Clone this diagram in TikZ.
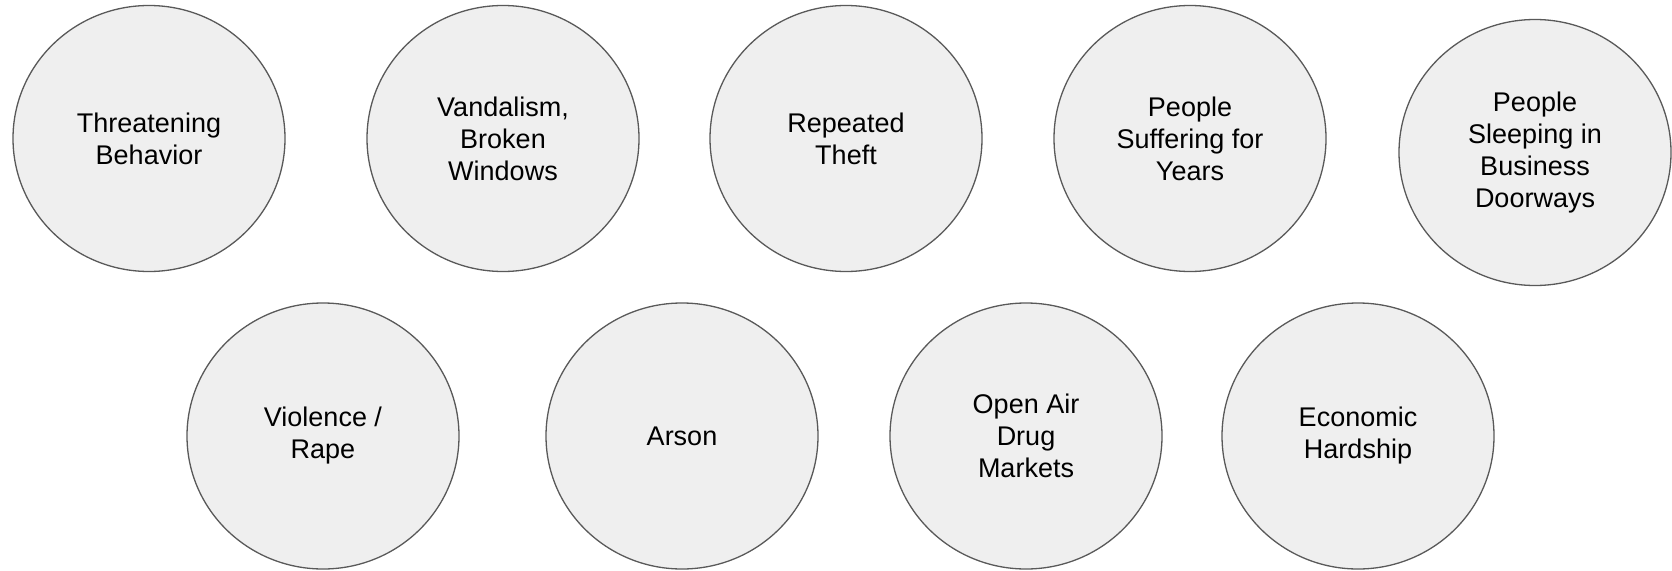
\documentclass[tikz,border=0pt]{standalone}
\usepackage{fontspec}
\setmainfont{Liberation Sans}
\usetikzlibrary{shapes.geometric}
\definecolor{issuefill}{HTML}{EFEFEF}
\definecolor{issueline}{HTML}{595959}
\begin{document}
\begin{tikzpicture}[
  x=1pt, y=-1pt,
  issue/.style={ellipse, draw=issueline, fill=issuefill, line width=1.3pt,
    minimum width=272pt, minimum height=266pt, inner sep=0pt,
    align=center, font=\fontsize{27}{32}\selectfont}
]
  \useasboundingbox (0,0) rectangle (1672,570);

  % Top row
  \node[issue] (threat) at (149, 138.5) {Threatening\\Behavior};
  \node[issue] (vandal) at (503, 138.5) {Vandalism,\\Broken\\Windows};
  \node[issue] (theft)  at (846, 138.5) {Repeated\\Theft};
  \node[issue] (suffer) at (1190, 138.5) {People\\Suffering for\\Years};
  \node[issue] (sleep)  at (1535, 152.5) {People\\Sleeping in\\Business\\Doorways};

  % Bottom row
  \node[issue] (violence) at (323, 436) {Violence /\\Rape};
  \node[issue] (arson)    at (682, 436) {Arson};
  \node[issue] (drugs)    at (1026, 436) {Open Air\\Drug\\Markets};
  \node[issue] (economy)  at (1358, 436) {Economic\\Hardship};
\end{tikzpicture}
\end{document}
